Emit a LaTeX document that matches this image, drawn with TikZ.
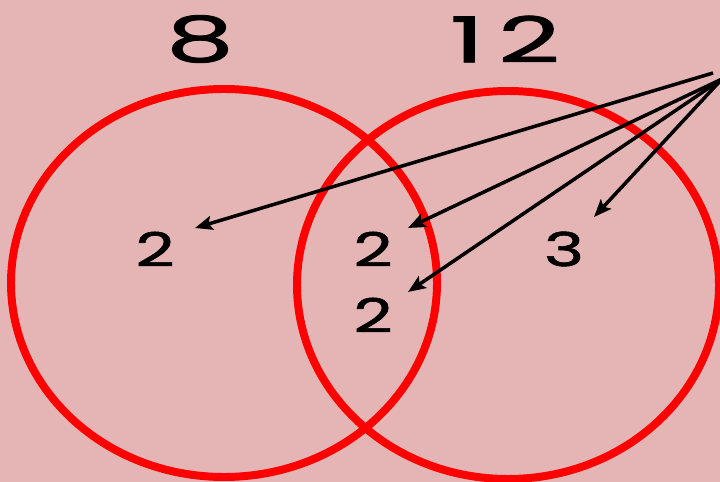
\documentclass[tikz,border=0pt]{standalone}
\usepackage{fontspec}
\newfontfamily\digitfont[FakeBold=1.2]{Poppins}
\usepackage{xcolor}
\usetikzlibrary{arrows.meta}
\definecolor{bgpink}{RGB}{229,181,181}
\definecolor{setred}{RGB}{255,0,0}

\tikzset{
  setline/.style = {setred, line width=6.8pt},
  pointer/.style = {black, line width=3pt,
    -{Stealth[length=15pt, width=12pt, inset=3pt]}},
  count/.style = {font=\digitfont\fontsize{40}{40}\selectfont, xscale=1.45, inner sep=0pt},
  total/.style = {font=\digitfont\fontsize{54}{54}\selectfont, xscale=1.7, inner sep=0pt}
}

\begin{document}
\begin{tikzpicture}[x=0.03cm, y=-0.03cm]
  % Background
  \fill[bgpink] (0,0) rectangle (720,482);
  \useasboundingbox (0,0) rectangle (720,482);
  \clip (0,0) rectangle (720,482);

  % Sets
  \draw[setline] (224,283) ellipse (213 and 194);
  \draw[setline] (508,285) ellipse (211 and 194);

  % Labels
  \node[total] (eight) at (200,39) {8};
  \node[total] (twelve) at (505,39) {1\hspace{7pt}2};

  \node[count] (onlyA) at (155,249) {2};
  \node[count] (bothA) at (373,249) {2};
  \node[count] (bothB) at (373,315) {2};
  \node[count] (onlyB) at (564,249) {3};

  % Arrows
  \coordinate (srcA) at (713,73);
  \coordinate (src) at (722,79);
  \coordinate (tipA) at (195,228);
  \coordinate (tipB) at (408,228);
  \coordinate (tipC) at (408,292);
  \coordinate (tipD) at (594,217);

  \draw[pointer] (srcA) -- (tipA);
  \draw[pointer] (src) -- (tipB);
  \draw[pointer] (src) -- (tipC);
  \draw[pointer] (src) -- (tipD);
\end{tikzpicture}
\end{document}
